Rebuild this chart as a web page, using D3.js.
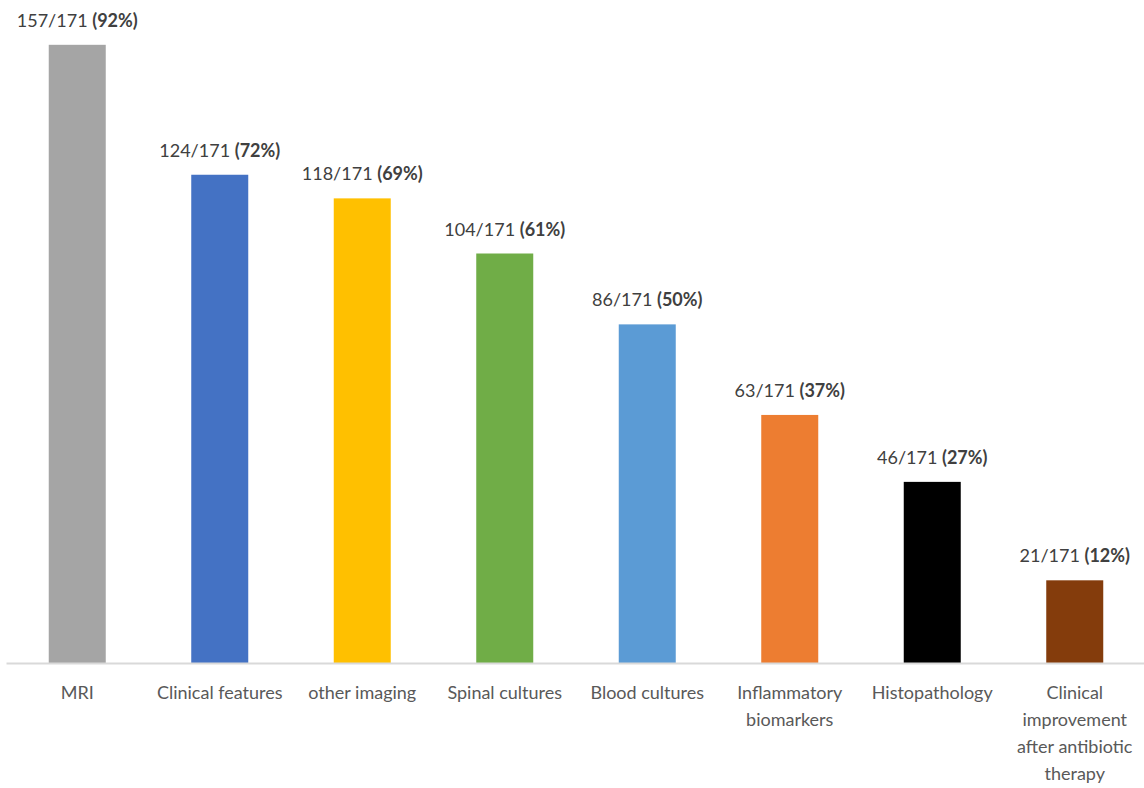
<!DOCTYPE html>
<html>
<head>
<meta charset="utf-8">
<script src="https://cdn.jsdelivr.net/npm/d3@7"></script>
<style>
  html, body { margin: 0; padding: 0; background: #fff; }
  svg { display: block; }
</style>
</head>
<body>
<svg id="chart" width="1144" height="788"></svg>
<script>
const categories = ["MRI", "Clinical features", "other imaging", "Spinal cultures", "Blood cultures",
  "Inflammatory\nbiomarkers", "Histopathology", "Clinical\nimprovement\nafter antibiotic\ntherapy"];
const counts = [157, 124, 118, 104, 86, 63, 46, 21];
const total = 171;
const percents = [92, 72, 69, 61, 50, 37, 27, 12];
const colors = ["#a5a5a5", "#4472c4", "#ffc000", "#70ad47", "#5b9bd5", "#ed7d31", "#000000", "#843c0c"];

const svg = d3.select("#chart");
const fontFamily = "Lato, 'Open Sans', sans-serif";

const x = d3.scaleBand().domain(categories).range([6, 1146]).paddingInner(0.6).paddingOuter(0.3);
const y = d3.scaleLinear().domain([0, 160]).range([663, 33]);

const data = categories.map((c, i) => ({ c, v: counts[i], p: percents[i], col: colors[i] }));

svg.selectAll("rect.bar").data(data).enter().append("rect")
  .attr("class", "bar")
  .attr("x", d => x(d.c))
  .attr("y", d => y(d.v))
  .attr("width", x.bandwidth())
  .attr("height", d => y(0) - y(d.v))
  .attr("fill", d => d.col);

// baseline axis
const axis = svg.append("g").attr("transform", `translate(0,${y(0)})`)
  .call(d3.axisBottom(x).tickSize(0).tickFormat(""));
axis.select(".domain").attr("stroke", "#d9d9d9").attr("stroke-width", 2);

// category labels
const lab = svg.selectAll("text.cat").data(data).enter().append("text")
  .attr("class", "cat")
  .attr("text-anchor", "middle")
  .attr("font-family", fontFamily)
  .attr("font-size", 18)
  .attr("fill", "#595959");
lab.each(function(d) {
  const lines = d.c.split("\n");
  const t = d3.select(this);
  lines.forEach((ln, j) => {
    t.append("tspan")
      .attr("x", x(d.c) + x.bandwidth() / 2)
      .attr("y", y(0) + 36 + j * 27)
      .text(ln);
  });
});

// value labels
const vl = svg.selectAll("text.val").data(data).enter().append("text")
  .attr("class", "val")
  .attr("text-anchor", "middle")
  .attr("font-family", fontFamily)
  .attr("font-size", 18)
  .attr("fill", "#404040")
  .attr("x", d => x(d.c) + x.bandwidth() / 2)
  .attr("y", d => y(d.v) - 18);
vl.append("tspan").text(d => `${d.v}/${total} `);
vl.append("tspan").attr("font-weight", "bold").text(d => `(${d.p}%)`);
</script>
</body>
</html>
